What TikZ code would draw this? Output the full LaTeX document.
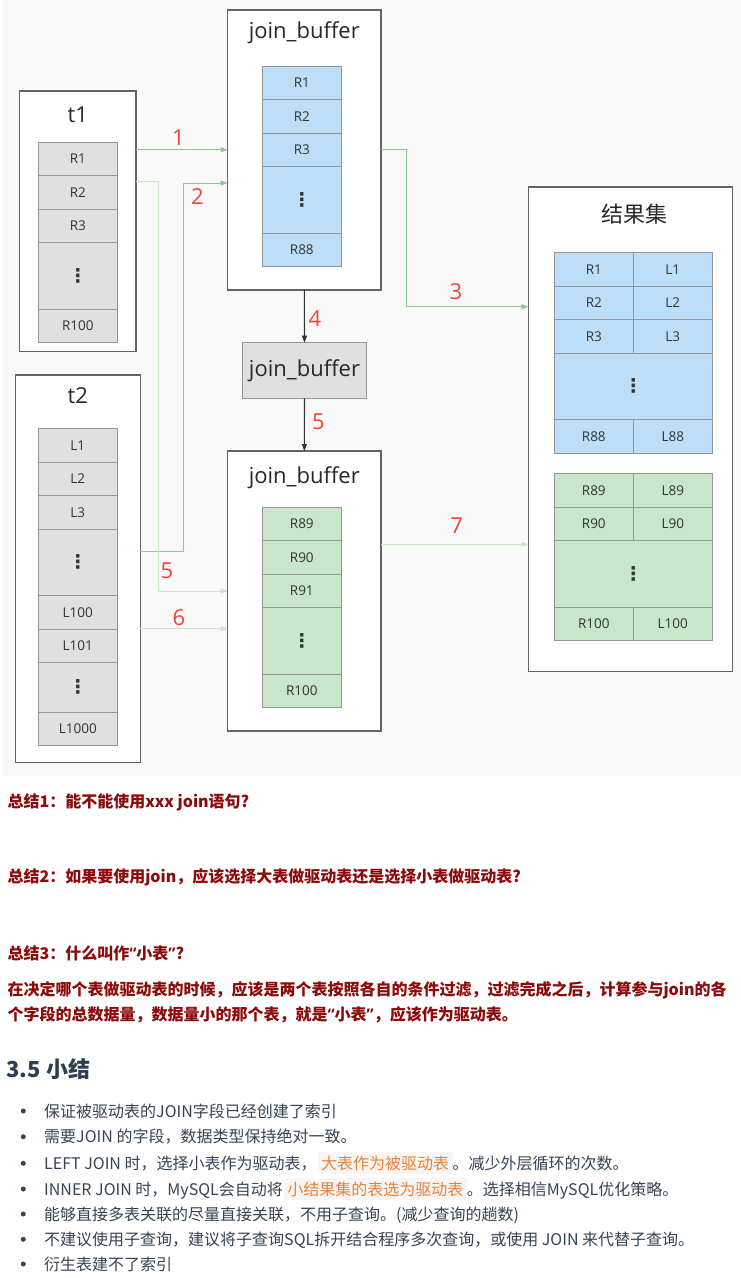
\documentclass[tikz,border=0pt]{standalone}
\usepackage{fontspec}
\setmainfont{Open Sans}
\newfontfamily\cjk{Noto Sans CJK SC}
\newfontfamily\symfont{DejaVu Sans}
\usetikzlibrary{arrows.meta, positioning}
\definecolor{diagbg}{RGB}{249,249,249}
\definecolor{boxline}{RGB}{100,100,100}
\definecolor{cellline}{RGB}{150,150,150}
\definecolor{cellgrey}{RGB}{224,224,224}
\definecolor{cellblue}{RGB}{189,222,248}
\definecolor{cellgreen}{RGB}{200,230,201}
\definecolor{celltext}{RGB}{51,51,51}
\definecolor{titletext}{RGB}{40,40,40}
\definecolor{numred}{RGB}{244,67,54}
\definecolor{flowgreen}{RGB}{135,204,135}
\definecolor{flowlight}{RGB}{200,232,200}
\definecolor{flowdark}{RGB}{51,51,51}
\definecolor{notered}{RGB}{140,10,10}
\definecolor{headtext}{RGB}{44,62,80}
\definecolor{itemtext}{RGB}{52,68,85}
\definecolor{codebg}{RGB}{247,246,244}
\definecolor{codeorange}{RGB}{238,128,54}
\newcommand{\hlcode}[1]{{\setlength{\fboxsep}{3.5pt}\hspace{1pt}\colorbox{codebg}{\textcolor{codeorange}{#1}}}}
\newcommand{\vdotsym}{{\symfont\bfseries\fontsize{19}{19}\selectfont ⋮}}
\newcommand{\oq}{{\rmfamily“}}
\newcommand{\cq}{{\rmfamily”}}

\begin{document}
\begin{tikzpicture}[
    x=1pt, y=-1pt,
    box/.style={draw=boxline, line width=1.3pt, fill=white, inner sep=0, outer sep=0,
                anchor=north west},
    cell/.style={draw=cellline, line width=0.8pt, inner sep=0, outer sep=0,
                 minimum width=79pt, minimum height=33.4pt, anchor=north west,
                 text=celltext, font=\fontsize{13.5}{16}\selectfont},
    cellg/.style={cell, fill=cellgrey},
    cellb/.style={cell, fill=cellblue},
    cellgn/.style={cell, fill=cellgreen},
    tall/.style={minimum height=66.7pt},
    title/.style={text=titletext, font=\fontsize{22}{26}\selectfont},
    num/.style={text=numred, font=\fontsize{22}{26}\selectfont},
    flow/.style={-{Triangle[length=7pt,width=5pt]}, line width=1pt, draw=flowgreen},
    flowlt/.style={flow, draw=flowlight},
    flowdk/.style={-{Triangle[length=7pt,width=5pt]}, line width=1.1pt, draw=flowdark},
    note/.style={anchor=base west, text=notered, font=\cjk\bfseries\fontsize{16}{18}\selectfont},
    item/.style={anchor=base west, text=itemtext, font=\cjk\fontsize{16}{18}\selectfont},
    dot/.style={circle, fill=itemtext, inner sep=0, minimum size=5pt}
]
\useasboundingbox (0,0) rectangle (741,1278);
\fill[white] (0,0) rectangle (741,1278);
\fill[diagbg] (2,0) rectangle (741,776);

% t1
\node[box, minimum width=116.3pt, minimum height=260.3pt] (t1) at (19.7,91) {};
\node[title] (t1name) at (77.8,115) {t1};
\foreach \lab [count=\i from 0] in {R1,R2,R3}
    \node[cellg] (t1r\i) at (38.3,142.3+33.4*\i) {\lab};
\node[cellg, tall, below=0pt of t1r2] (t1dots) {\vdotsym};
\node[cellg, below=0pt of t1dots] (t1last) {R100};

% t2
\node[box, minimum width=125pt, minimum height=387.3pt] (t2) at (15.3,375) {};
\node[title] (t2name) at (77.8,395.7) {t2};
\foreach \lab [count=\i from 0] in {L1,L2,L3}
    \node[cellg] (t2r\i) at (38.3,428.7+33.4*\i) {\lab};
\node[cellg, tall, below=0pt of t2r2] (t2dots) {\vdotsym};
\node[cellg, below=0pt of t2dots] (t2r100) {L100};
\node[cellg, below=0pt of t2r100] (t2r101) {L101};
\node[cellg, minimum height=49.6pt, below=0pt of t2r101] (t2dots2) {\vdotsym};
\node[cellg, below=0pt of t2dots2] (t2last) {L1000};

% first join_buffer
\node[box, minimum width=153.3pt, minimum height=280pt] (jb1) at (227.7,10) {};
\node[title] (jb1name) at (304.3,33) {join\_buffer};
\foreach \lab [count=\i from 0] in {R1,R2,R3}
    \node[cellb] (jb1r\i) at (262.3,66.3+33.4*\i) {\lab};
\node[cellb, tall, below=0pt of jb1r2] (jb1dots) {\vdotsym};
\node[cellb, below=0pt of jb1dots] (jb1last) {R88};

% cleared join_buffer
\node[cellg, minimum width=124.4pt, minimum height=55.6pt, title] (jbmid) at (242.3,342.7) {join\_buffer};

% second join_buffer
\node[box, minimum width=153.3pt, minimum height=280pt] (jb2) at (227.7,451) {};
\node[title] (jb2name) at (304.3,477.3) {join\_buffer};
\foreach \lab [count=\i from 0] in {R89,R90,R91}
    \node[cellgn] (jb2r\i) at (262.3,507.3+33.4*\i) {\lab};
\node[cellgn, tall, below=0pt of jb2r2] (jb2dots) {\vdotsym};
\node[cellgn, below=0pt of jb2dots] (jb2last) {R100};

% result set
\node[box, minimum width=204pt, minimum height=484.7pt] (res) at (528.3,187) {};
\node[title, font=\cjk\fontsize{22}{26}\selectfont] (resname) at (634,214) {结果集};
\foreach \a/\b [count=\i from 0] in {R1/L1,R2/L2,R3/L3} {
    \node[cellb] (resl\i) at (554.3,252.7+33.4*\i) {\a};
    \node[cellb] (resr\i) at (633.3,252.7+33.4*\i) {\b};
}
\node[cellb, tall, minimum width=158pt] (resdots) at (resl2.south west) {\vdotsym};
\node[cellb] (resl88) at (resdots.south west) {R88};
\node[cellb] (resr88) at (resl88.north east) {L88};
\foreach \a/\b [count=\i from 0] in {R89/L89,R90/L90} {
    \node[cellgn] (resgl\i) at (554.3,473.7+33.4*\i) {\a};
    \node[cellgn] (resgr\i) at (633.3,473.7+33.4*\i) {\b};
}
\node[cellgn, tall, minimum width=158pt] (resgdots) at (resgl1.south west) {\vdotsym};
\node[cellgn] (resgl100) at (resgdots.south west) {R100};
\node[cellgn] (resgr100) at (resgl100.north east) {L100};

% connectors
\coordinate (turn2) at (183,183);
\coordinate (turn5) at (158.7,591);
\coordinate (turn3) at (406.7,306.7);
\draw[flow] (t1.east |- jb1r2) -- (jb1.west |- jb1r2);
\draw[flow] (t2.east |- 0,551) -| (turn2) -- (jb1.west |- turn2);
\draw[flowlt] (t1.east |- 0,181.7) -| (turn5) -- (jb2.west |- turn5);
\draw[flowlt] (t2.east |- 0,628.7) -- (jb2.west |- 0,628.7);
\draw[flow] (jb1.east |- jb1r2) -| (turn3) -- (res.west |- turn3);
\draw[flowlt] (jb2.east |- 0,544.3) -- (res.west |- 0,544.3);
\draw[flowdk] (jb1.south) -- (jbmid.north);
\draw[flowdk] (jbmid.south) -- (jb2.north);

% step numbers
\node[num] (n1) at (178.3,137.3) {1};
\node[num] (n2) at (197.3,196.7) {2};
\node[num] (n3) at (456,291.7) {3};
\node[num] (n4) at (315,318.5) {4};
\node[num] (n5a) at (318.3,421.7) {5};
\node[num] (n5b) at (167,570.7) {5};
\node[num] (n6) at (179,617.3) {6};
\node[num] (n7) at (456.7,526) {7};

% notes
\node[note] (sum1) at (4,807) {总结1：能不能使用xxx join语句?};
\node[note] (sum2) at (4,882) {总结2：如果要使用join，应该选择大表做驱动表还是选择小表做驱动表?};
\node[note] (sum3) at (4,959) {总结3：什么叫作\oq 小表\cq?};
\node[note] (ans1) at (4,995.5) {在决定哪个表做驱动表的时候，应该是两个表按照各自的条件过滤，过滤完成之后，计算参与join的各};
\node[note] (ans2) at (4,1020.5) {个字段的总数据量，数据量小的那个表，就是\oq 小表\cq，应该作为驱动表。};

% summary list
\node[anchor=base west, text=headtext, font=\cjk\bfseries\fontsize{22}{26}\selectfont] (head) at (3,1077) {3.5 小结};
\foreach \yy [count=\i] in {1111,1136.7,1163.3,1189,1214,1239.3,1264}
    \node[dot] (b\i) at (23.3,\yy) {};
\node[item] (it1) at (40.7,1117) {保证被驱动表的JOIN字段已经创建了索引};
\node[item] (it2) at (40.7,1142.5) {需要JOIN 的字段，数据类型保持绝对一致。};
\node[item] (it3) at (40.7,1169) {LEFT JOIN 时，选择小表作为驱动表，\hlcode{大表作为被驱动表}。减少外层循环的次数。};
\node[item] (it4) at (40.7,1195) {INNER JOIN 时，MySQL会自动将\hlcode{小结果集的表选为驱动表}。选择相信MySQL优化策略。};
\node[item] (it5) at (40.7,1220) {能够直接多表关联的尽量直接关联，不用子查询。(减少查询的趟数)};
\node[item] (it6) at (40.7,1245) {不建议使用子查询，建议将子查询SQL拆开结合程序多次查询，或使用 JOIN 来代替子查询。};
\node[item] (it7) at (40.7,1270) {衍生表建不了索引};
\end{tikzpicture}
\end{document}
